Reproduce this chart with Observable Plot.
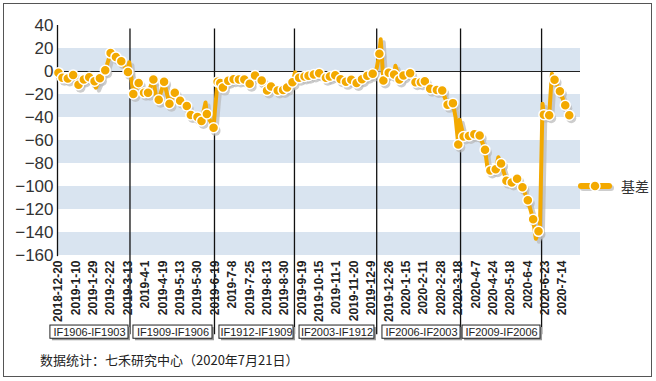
<!DOCTYPE html>
<html><head><meta charset="utf-8">
<script src="https://cdn.jsdelivr.net/npm/d3@7"></script>
<script src="https://cdn.jsdelivr.net/npm/@observablehq/plot@0.6"></script>
<style>
body{margin:0;background:#fff;}
#wrap{position:relative;width:656px;height:381px;overflow:hidden;font-family:"Liberation Sans",Arial,sans-serif;}
#border{position:absolute;left:3px;top:3px;width:649px;height:374px;border:1px solid #555;box-sizing:border-box;}
#chart{position:absolute;left:0;top:0;}
#legend{position:absolute;left:577px;top:176px;display:flex;align-items:center;}
#legend span{font-family:"Noto Sans CJK SC","Liberation Sans",sans-serif;font-size:14px;color:#333;margin-left:4px;}
#caption{position:absolute;left:40px;top:350px;font-family:"Noto Sans CJK SC","Liberation Sans",sans-serif;font-size:13px;color:#222;white-space:nowrap;}
</style></head>
<body>
<div id="wrap">
  <div id="border"></div>
  <div id="chart"></div>
  <div id="legend"></div>
  <div id="caption"></div>
</div>
<script>
// ---- data ----
const tickLabels = ["2018-12-20","2019-1-10","2019-1-29","2019-2-22","2019-3-13","2019-4-1","2019-4-19","2019-5-13","2019-5-30","2019-6-19","2019-7-8","2019-7-25","2019-8-13","2019-8-30","2019-9-19","2019-10-15","2019-11-1","2019-11-20","2019-12-9","2019-12-26","2020-1-15","2020-2-11","2020-2-28","2020-3-18","2020-4-7","2020-4-24","2020-5-18","2020-6-4","2020-6-23","2020-7-14"];
// trading-day index of each labelled date
const tickDays = [0,13,26,39,52,65,78,91,104,117,130,143,156,169,182,195,208,221,234,247,260,273,286,299,312,325,338,351,364,377];
const yTicks = [40,20,0,-20,-40,-60,-80,-100,-120,-140,-160];
const bandLo = [0,-40,-80,-120,-160];
const bandHi = [20,-20,-60,-100,-140];
// basis: [trading-day index, value] (marked points)
const basisPoints = [
 [0,-1],[3,-5.5],[7,-6],[11,-3],[15,-11.5],[19,-7],[23,-5],[27,-8.4],[31,-5.8],[35,1],
 [39,16],[43,12.7],[47,9],[52,-0.5],[56,-19.5],[60,-10],[64,-18.5],[67,-18.5],[71,-7],[75,-24.6],
 [79,-9],[83,-28],[87,-18.5],[91,-25.5],[96,-30],[99,-37.8],[104,-39.5],[107,-43],[111,-37],[116,-49],
 [119,-9],[121,-10],[123,-14],[127,-8],[131,-6.7],[135,-7],[139,-7],[143,-10.7],[147,-3.5],[152,-7.8],
 [156,-16.5],[159,-13],[164,-16.5],[168,-16],[171,-14],[175,-9.3],[180,-5.5],[184,-4.3],[187,-3.7],[191,-2.6],
 [195,-1.5],[200,-5.5],[203,-4.3],[207,-3.2],[211,-6.7],[215,-9],[219,-7.2],[223,-10],[227,-6.7],[231,-3.7],
 [235,-2],[240,15.4],[243,-7.8],[247,-1],[251,-2.6],[255,-7],[258,-3.5],[263,-1.5],[267,-9.3],[271,-9.3],
 [274,-8.4],[278,-15],[283,-16],[287,-16.5],[291,-29],[295,-27.5],[299,-63.5],[303,-56.5],[307,-56],[311,-54.5],
 [315,-55.7],[319,-68],[323,-86],[327,-85],[331,-80],[335,-95],[339,-96.5],[343,-93.3],[347,-100.6],[351,-112],
 [355,-128.5],[359,-139],[363,-37.5],[367,-38],[371,-7.2],[375,-17.2],[379,-29.3],[382,-38]
];
// spikes drawn by the line only
const spikePoints = [
 [28,-14],[53,8],[73,-22],[110,-27],[117,-34],[177,-0.6],[238,3],[241,28],[252,5],[297,-40],
 [300,-42],[321,-85],[329,-74.5],[357,-145.5],[360,-140],[362,-28],[369,-2]
];
// contract roll days (separators)
const rollDays = [53.5,116.7,176.5,238,300.7,361.3];
const contractNames = ["IF1906-IF1903","IF1909-IF1906","IF1912-IF1909","IF2003-IF1912","IF2006-IF2003","IF2009-IF2006"];
const contractStart = [-6,56.1,120.4,180.3,242.3,302.2];
const contractEnd = [52.4,115.2,175.8,236.3,300.7,360.5];
const seriesName = "基差";
const captionText = "数据统计：七禾研究中心（2020年7月21日）";

// ---- build ----
const ORANGE = "#f3a900";
const xDomain = [-0.7, 390.4];
const bands = bandLo.map((lo, i) => ({lo, hi: bandHi[i]}));
const pts = basisPoints.map(([day, v]) => ({day, v}));
const lineData = basisPoints.concat(spikePoints).map(([day, v]) => ({day, v})).sort((a, b) => a.day - b.day);
const contracts = contractNames.map((name, i) => ({name, start: contractStart[i], end: contractEnd[i]}));
const labelMap = new Map(tickDays.map((d, i) => [d, tickLabels[i]]));
const BOX_TOP = -220.9, BOX_BOTTOM = -232.4;

const plot = Plot.plot({
  width: 656, height: 381,
  marginLeft: 57, marginRight: 76, marginTop: 25, marginBottom: 126,
  x: {domain: xDomain},
  y: {domain: [-160, 40]},
  style: {fontFamily: "'Liberation Sans', Arial, sans-serif", background: "transparent", overflow: "visible"},
  marks: [
    Plot.rect(bands, {x1: xDomain[0], x2: xDomain[1], y1: "lo", y2: "hi", fill: "#d9e4f0"}),
    Plot.ruleY([0], {x1: xDomain[0], x2: xDomain[1], stroke: "#222", strokeWidth: 1}),
    Plot.ruleX(rollDays, {x: d => d, y1: 37, y2: -229, stroke: "#111", strokeWidth: 1.3}),
    Plot.ruleX([xDomain[0]], {y1: 40, y2: -161, stroke: "#111", strokeWidth: 1.3}),
    // shadows
    Plot.line(lineData, {x: "day", y: "v", stroke: "#b8b8b8", strokeOpacity: 0.7, strokeWidth: 4, dx: 3, dy: 3}),
    Plot.dot(pts, {x: "day", y: "v", r: 5, fill: "#b8b8b8", fillOpacity: 0.7, dx: 2, dy: 3}),
    // series
    Plot.line(lineData, {x: "day", y: "v", stroke: ORANGE, strokeWidth: 4, strokeLinejoin: "round"}),
    Plot.dot(pts, {x: "day", y: "v", r: 5, fill: ORANGE, stroke: "#fff", strokeWidth: 1.5}),
    // contract boxes
    Plot.rect(contracts, {x1: "start", x2: "end", y1: BOX_BOTTOM, y2: BOX_TOP, fill: "#999", dx: 2, dy: 2}),
    Plot.rect(contracts, {x1: "start", x2: "end", y1: BOX_BOTTOM, y2: BOX_TOP, fill: "#fff", stroke: "#222", strokeWidth: 1}),
    Plot.text(contracts, {x: d => (d.start + d.end) / 2, y: (BOX_TOP + BOX_BOTTOM) / 2, text: "name", fontSize: 11, fill: "#222"}),
    Plot.axisY({ticks: yTicks, tickSize: 0, tickPadding: 4, fontSize: 17, color: "#333"}),
    Plot.axisX({ticks: tickDays, tickFormat: d => labelMap.get(d), tickRotate: -90, tickSize: 0, tickPadding: 5, fontSize: 12, fontWeight: "bold", color: "#222"})
  ]
});
document.getElementById("chart").appendChild(plot);

// legend
const lg = d3.select("#legend");
const ls = lg.append("svg").attr("width", 40).attr("height", 18);
ls.append("line").attr("x1", 6).attr("x2", 34).attr("y1", 11).attr("y2", 11).attr("stroke", "#b8b8b8").attr("stroke-opacity", 0.7).attr("stroke-width", 6).attr("stroke-linecap", "round");
ls.append("line").attr("x1", 4).attr("x2", 32).attr("y1", 9).attr("y2", 9).attr("stroke", ORANGE).attr("stroke-width", 6).attr("stroke-linecap", "round");
ls.append("circle").attr("cx", 18).attr("cy", 9).attr("r", 5).attr("fill", ORANGE).attr("stroke", "#fff").attr("stroke-width", 1.5);
lg.append("span").text(seriesName);
document.getElementById("caption").textContent = captionText;
</script>
</body></html>
